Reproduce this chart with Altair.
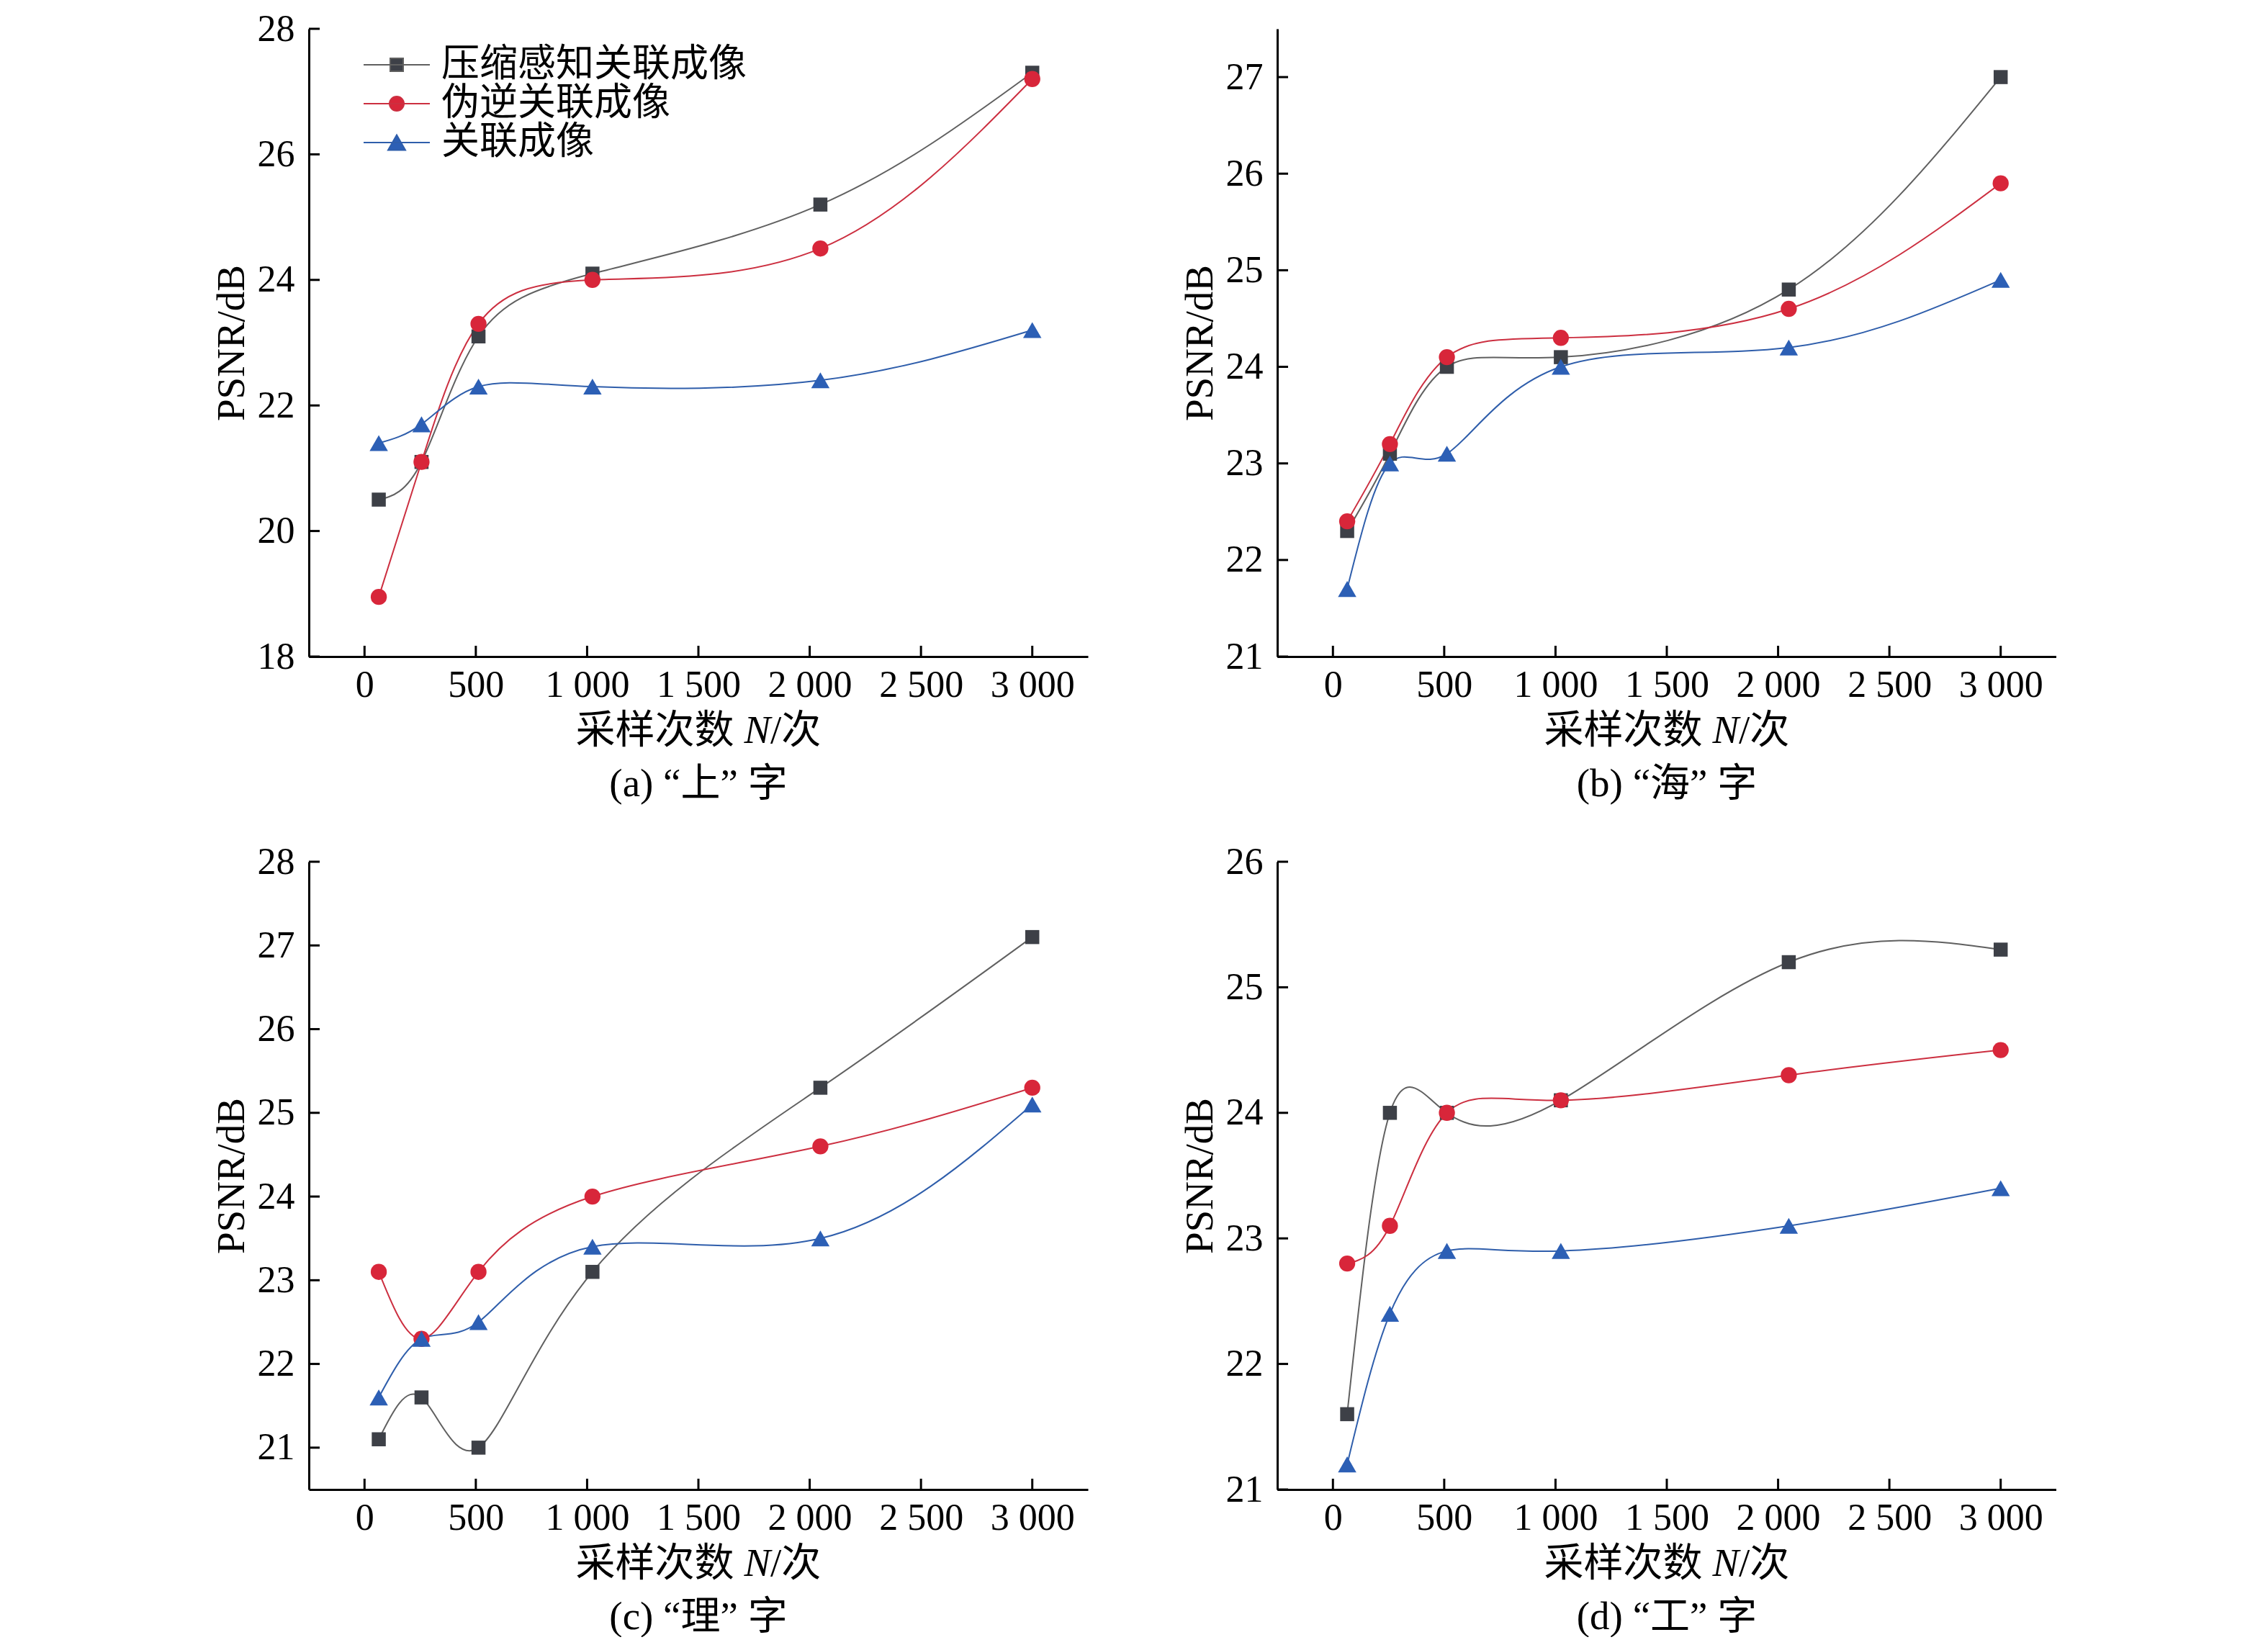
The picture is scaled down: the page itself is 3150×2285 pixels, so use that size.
import altair as alt
import pandas as pd

# ---------------- data ----------------
xs = [64, 256, 512, 1024, 2048, 3000]
series_names = ["压缩感知关联成像", "伪逆关联成像", "关联成像"]

a_cs = [20.5, 21.1, 23.1, 24.1, 25.2, 27.3]
a_pi = [18.95, 21.1, 23.3, 24.0, 24.5, 27.2]
a_gi = [21.4, 21.7, 22.3, 22.3, 22.4, 23.2]

b_cs = [22.3, 23.1, 24.0, 24.1, 24.8, 27.0]
b_pi = [22.4, 23.2, 24.1, 24.3, 24.6, 25.9]
b_gi = [21.7, 23.0, 23.1, 24.0, 24.2, 24.9]

c_cs = [21.1, 21.6, 21.0, 23.1, 25.3, 27.1]
c_pi = [23.1, 22.3, 23.1, 24.0, 24.6, 25.3]
c_gi = [21.6, 22.3, 22.5, 23.4, 23.5, 25.1]

d_cs = [21.6, 24.0, 24.0, 24.1, 25.2, 25.3]
d_pi = [22.8, 23.1, 24.0, 24.1, 24.3, 24.5]
d_gi = [21.2, 22.4, 22.9, 22.9, 23.1, 23.4]

x_domain = [-250, 3250]
x_ticks = [0, 500, 1000, 1500, 2000, 2500, 3000]

a_ydom, a_yticks = [18, 28], [18, 20, 22, 24, 26, 28]
b_ydom, b_yticks = [21, 27.5], [21, 22, 23, 24, 25, 26, 27]
c_ydom, c_yticks = [20.5, 28], [21, 22, 23, 24, 25, 26, 27, 28]
d_ydom, d_yticks = [21, 26], [21, 22, 23, 24, 25, 26]

titles = ["(a) “上” 字", "(b) “海” 字", "(c) “理” 字", "(d) “工” 字"]

# ---------------- style ----------------
SERIF = "Liberation Serif, Noto Sans CJK SC"
W, H = 1082, 872
marker_fill = ["#3d4047", "#d8263a", "#2c5fb5"]
line_col = ["#606060", "#cc2f40", "#2f5eab"]
shapes = ["square", "circle", "triangle-up"]
sizes = [380, 500, 650]
leg_paths = [
    "M-2.3,0H2.3M-0.45,-0.45H0.45V0.45H-0.45Z",
    "M-2.3,0H2.3M-0.5,0A0.5,0.5,0,1,0,0.5,0A0.5,0.5,0,1,0,-0.5,0Z",
    "M-2.3,0H2.3M0,-0.52L-0.6,0.52L0.6,0.52Z",
]


def text_layer(s, x, y, align="left", style="normal"):
    return alt.Chart(pd.DataFrame({"t": [s]})).mark_text(
        align=align, baseline="alphabetic", font=SERIF, fontSize=55,
        fontStyle=style, color="black"
    ).encode(text="t:N", x=alt.value(x), y=alt.value(y))


def panel(cs, pi, gi, ydom, yticks, title, legx):
    rows = []
    for name, vals in zip(series_names, [cs, pi, gi]):
        for xv, v in zip(xs, vals):
            rows.append({"n": xv, "psnr": v, "series": name})
    df = pd.DataFrame(rows)

    xscale = alt.Scale(domain=x_domain, nice=False, zero=False)
    yscale = alt.Scale(domain=ydom, nice=False, zero=False)
    xaxis = alt.Axis(
        values=x_ticks, labelExpr="replace(format(datum.value, ','), ',', ' ')",
        title=None, ticks=False, labelPadding=14, labelFontSize=52,
        labelFont=SERIF, labelColor="black", domainColor="black", domainWidth=3,
        grid=False, labelFlush=False, labelOverlap=False,
    )
    yaxis = alt.Axis(
        values=yticks, format="d", title="PSNR/dB", titleX=-108, titleY=H / 2,
        titleAngle=270, titleAlign="center", titleBaseline="middle",
        titleFont=SERIF, titleFontSize=55, titleFontWeight="normal",
        titleColor="black", ticks=False, labelPadding=20,
        labelFontSize=52, labelFont=SERIF, labelColor="black",
        domainColor="black", domainWidth=3, grid=False,
        labelOverlap=False,
    )

    def X(field):
        return alt.X(field, scale=xscale, axis=xaxis)

    def Y(field):
        return alt.Y(field, scale=yscale, axis=yaxis)

    layers = []
    for i, name in enumerate(series_names):
        sub = df[df.series == name]
        layers.append(
            alt.Chart(sub).mark_line(
                interpolate="natural", color=line_col[i], strokeWidth=2
            ).encode(x=X("n:Q"), y=Y("psnr:Q"))
        )
    for i, name in enumerate(series_names):
        sub = df[df.series == name]
        layers.append(
            alt.Chart(sub).mark_point(
                shape=shapes[i], filled=True, size=sizes[i],
                color=marker_fill[i], opacity=1
            ).encode(x=X("n:Q"), y=Y("psnr:Q"))
        )

    xt = alt.Chart(pd.DataFrame({"n": x_ticks})).mark_rule(
        color="black", strokeWidth=3
    ).encode(x=X("n:Q"), y=alt.value(H), y2=alt.value(H - 15))
    yt = alt.Chart(pd.DataFrame({"psnr": yticks})).mark_rule(
        color="black", strokeWidth=3
    ).encode(y=Y("psnr:Q"), x=alt.value(0), x2=alt.value(15))

    leg = alt.Legend(
        title=None, orient="none", legendX=legx, legendY=23.5,
        labelFont=SERIF, labelFontSize=53, labelColor="black",
        labelLimit=1000, symbolSize=1600, symbolStrokeWidth=2,
        rowPadding=0, labelOffset=35.5, padding=0,
    )
    legend_layer = alt.Chart(df).transform_filter("false").mark_point(
        filled=True, opacity=1, size=1600, strokeWidth=2
    ).encode(
        fill=alt.Fill("series:N", scale=alt.Scale(domain=series_names, range=marker_fill), legend=leg),
        stroke=alt.Stroke("series:N", scale=alt.Scale(domain=series_names, range=line_col), legend=leg),
        shape=alt.Shape("series:N", scale=alt.Scale(domain=series_names, range=leg_paths), legend=leg),
    )

    cx = W / 2
    texts = [
        text_layer("采样次数", cx - 170.5, H + 120),
        text_layer("N", cx + 63.5, H + 120, style="italic"),
        text_layer("/次", cx + 100, H + 120),
        text_layer(title, cx, H + 194, align="center"),
    ]

    return alt.layer(*layers, xt, yt, legend_layer, *texts).properties(width=W, height=H)


pa = panel(a_cs, a_pi, a_gi, a_ydom, a_yticks, titles[0], 95.5)
pb = panel(b_cs, b_pi, b_gi, b_ydom, b_yticks, titles[1], 91.5)
pc = panel(c_cs, c_pi, c_gi, c_ydom, c_yticks, titles[2], 95.5)
pd_ = panel(d_cs, d_pi, d_gi, d_ydom, d_yticks, titles[3], 81.5)

chart = alt.vconcat(
    alt.hconcat(pa, pb, spacing=128),
    alt.hconcat(pc, pd_, spacing=128),
    spacing=54,
).properties(
    padding={"left": 286, "top": 6, "right": 0, "bottom": 0},
    background="white",
).configure_view(stroke=None)

chart.save("out.html", embed_options={"renderer": "svg", "actions": False})
